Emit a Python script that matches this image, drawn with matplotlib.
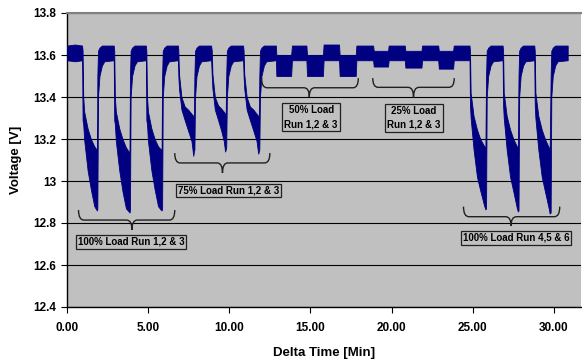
import matplotlib
matplotlib.use("Agg")
import matplotlib.pyplot as plt
from matplotlib.path import Path
from matplotlib.patches import PathPatch

plt.rcParams['font.family'] = ['Liberation Sans', 'DejaVu Sans']

# Envelope of the noisy voltage trace, segment by segment:
# time [min], lower edge [V], upper edge [V]
start_t = [0.00, 0.50, 0.93]
start_lo = [13.575, 13.570, 13.575]
start_hi = [13.645, 13.650, 13.645]

# 100 % load, runs 1-3
r1_t = [0.96, 1.00, 1.06, 1.27, 1.47, 1.68, 1.82, 1.85, 1.87, 1.91, 2.00, 2.15, 2.30, 2.88]
r1_lo = [13.29, 13.27, 13.195, 13.05, 12.96, 12.88, 12.862, 12.86, 12.87, 13.40, 13.50, 13.55, 13.57, 13.575]
r1_hi = [13.62, 13.40, 13.33, 13.25, 13.20, 13.165, 13.15, 13.15, 13.50, 13.62, 13.635, 13.645, 13.645, 13.645]
r2_t = [2.91, 2.95, 3.01, 3.22, 3.42, 3.63, 3.80, 3.85, 3.88, 3.92, 4.01, 4.16, 4.31, 4.86]
r2_lo = [13.29, 13.27, 13.19, 13.05, 12.95, 12.87, 12.855, 12.85, 12.86, 13.40, 13.50, 13.55, 13.57, 13.575]
r2_hi = [13.62, 13.40, 13.33, 13.25, 13.20, 13.16, 13.14, 13.14, 13.50, 13.62, 13.635, 13.645, 13.645, 13.645]
r3_t = [4.89, 4.93, 4.99, 5.20, 5.40, 5.61, 5.79, 5.83, 5.86, 5.90, 5.99, 6.14, 6.29, 6.84]
r3_lo = [13.29, 13.27, 13.19, 13.05, 12.96, 12.88, 12.862, 12.86, 12.87, 13.40, 13.50, 13.55, 13.57, 13.575]
r3_hi = [13.62, 13.40, 13.33, 13.25, 13.20, 13.165, 13.15, 13.15, 13.50, 13.62, 13.635, 13.645, 13.645, 13.645]

# 75 % load, runs 1-3
s1_t = [6.86, 6.90, 7.05, 7.25, 7.46, 7.67, 7.78, 7.82, 7.85, 7.89, 7.98, 8.13, 8.28, 8.88]
s1_lo = [13.50, 13.44, 13.34, 13.29, 13.24, 13.19, 13.12, 13.14, 13.15, 13.40, 13.50, 13.55, 13.57, 13.575]
s1_hi = [13.62, 13.51, 13.40, 13.355, 13.34, 13.32, 13.31, 13.31, 13.50, 13.62, 13.635, 13.645, 13.645, 13.645]
s2_t = [8.92, 8.96, 9.11, 9.31, 9.50, 9.66, 9.74, 9.78, 9.81, 9.85, 9.94, 10.09, 10.24, 10.85]
s2_lo = [13.50, 13.44, 13.34, 13.29, 13.24, 13.19, 13.14, 13.15, 13.16, 13.40, 13.50, 13.55, 13.57, 13.575]
s2_hi = [13.62, 13.51, 13.40, 13.36, 13.345, 13.33, 13.32, 13.32, 13.50, 13.62, 13.635, 13.645, 13.645, 13.645]
s3_t = [10.88, 10.92, 11.07, 11.27, 11.48, 11.68, 11.78, 11.82, 11.85, 11.89, 11.98, 12.13, 12.28, 12.87]
s3_lo = [13.50, 13.44, 13.34, 13.29, 13.24, 13.19, 13.13, 13.14, 13.15, 13.40, 13.50, 13.55, 13.57, 13.575]
s3_hi = [13.62, 13.51, 13.40, 13.355, 13.34, 13.32, 13.31, 13.31, 13.50, 13.62, 13.635, 13.645, 13.645, 13.645]

# 50 % load, runs 1-3
h_t = [12.90, 13.81, 13.86, 14.75, 14.79, 15.77, 15.81, 16.76, 16.80, 17.79, 17.83, 18.86]
h_lo = [13.50, 13.50, 13.575, 13.575, 13.50, 13.50, 13.575, 13.575, 13.50, 13.50, 13.575, 13.575]
h_hi = [13.60, 13.60, 13.645, 13.645, 13.60, 13.60, 13.65, 13.65, 13.60, 13.60, 13.645, 13.645]

# 25 % load, runs 1-3
q_t = [18.90, 19.78, 19.82, 20.81, 20.85, 21.84, 21.88, 22.87, 22.91, 23.79, 23.83, 24.80]
q_lo = [13.545, 13.545, 13.575, 13.575, 13.54, 13.54, 13.575, 13.575, 13.535, 13.535, 13.575, 13.575]
q_hi = [13.62, 13.62, 13.645, 13.645, 13.62, 13.62, 13.645, 13.645, 13.62, 13.62, 13.645, 13.645]

# 100 % load, runs 4-6
r4_t = [24.83, 24.87, 25.05, 25.26, 25.46, 25.71, 25.78, 25.82, 25.86, 25.95, 26.10, 26.25, 26.84]
r4_lo = [13.36, 13.30, 13.15, 13.02, 12.955, 12.88, 12.865, 12.87, 13.40, 13.50, 13.55, 13.57, 13.575]
r4_hi = [13.62, 13.42, 13.31, 13.245, 13.20, 13.165, 13.16, 13.50, 13.62, 13.635, 13.645, 13.645, 13.645]
r5_t = [26.87, 26.91, 27.09, 27.30, 27.50, 27.72, 27.78, 27.82, 27.86, 27.95, 28.10, 28.25, 28.79]
r5_lo = [13.36, 13.30, 13.15, 13.02, 12.95, 12.87, 12.855, 12.86, 13.40, 13.50, 13.55, 13.57, 13.575]
r5_hi = [13.62, 13.42, 13.31, 13.245, 13.20, 13.165, 13.16, 13.50, 13.62, 13.635, 13.645, 13.645, 13.645]
r6_t = [28.82, 28.86, 29.04, 29.25, 29.45, 29.68, 29.74, 29.80, 29.84, 29.93, 30.08, 30.23, 30.85]
r6_lo = [13.36, 13.30, 13.15, 13.02, 12.95, 12.87, 12.845, 12.85, 13.40, 13.50, 13.55, 13.57, 13.575]
r6_hi = [13.62, 13.42, 13.31, 13.245, 13.20, 13.16, 13.15, 13.50, 13.62, 13.635, 13.645, 13.645, 13.645]

time_min = start_t + r1_t + r2_t + r3_t + s1_t + s2_t + s3_t + h_t + q_t + r4_t + r5_t + r6_t
volt_low = start_lo + r1_lo + r2_lo + r3_lo + s1_lo + s2_lo + s3_lo + h_lo + q_lo + r4_lo + r5_lo + r6_lo
volt_high = start_hi + r1_hi + r2_hi + r3_hi + s1_hi + s2_hi + s3_hi + h_hi + q_hi + r4_hi + r5_hi + r6_hi

x_ticks = [0, 5, 10, 15, 20, 25, 30]
x_tick_labels = ["0.00", "5.00", "10.00", "15.00", "20.00", "25.00", "30.00"]
y_ticks = [12.4, 12.6, 12.8, 13.0, 13.2, 13.4, 13.6, 13.8]
y_tick_labels = ["12.4", "12.6", "12.8", "13", "13.2", "13.4", "13.6", "13.8"]

# annotation groups: label, brace left/right (min), brace top/flat/tip (V), label centre
labels = ["100% Load Run 1,2 & 3", "75% Load Run 1,2 & 3", "50% Load\nRun 1,2 & 3",
          "25% Load\nRun 1,2 & 3", "100% Load Run 4,5 & 6"]
brace_left = [0.71, 6.64, 11.99, 18.84, 24.43]
brace_right = [6.64, 12.50, 17.95, 23.86, 30.36]
brace_centre = [4.00, 9.58, 14.93, 21.35, 27.36]
brace_top = [12.862, 13.133, 13.49, 13.49, 12.878]
brace_flat = [12.814, 13.086, 13.444, 13.446, 12.830]
brace_tip = [12.767, 13.038, 13.400, 13.398, 12.786]
label_x = [3.95, 9.96, 15.04, 21.38, 27.67]
label_y = [12.710, 12.955, 13.304, 13.300, 12.730]

fig = plt.figure(figsize=(5.82, 3.6), dpi=100)
ax = fig.add_axes([67 / 582, 1 - 307 / 360, (581 - 67) / 582, (307 - 13) / 360])
ax.set_facecolor("#C0C0C0")

ax.fill_between(time_min, volt_low, volt_high, color="#000080", lw=0.6,
                edgecolor="#000080", zorder=3)

ax.set_xlim(0, 31.67)
ax.set_ylim(12.4, 13.8)
ax.set_xticks(x_ticks)
ax.set_xticklabels(x_tick_labels, fontsize=8.5, fontweight="bold")
ax.set_yticks(y_ticks)
ax.set_yticklabels(y_tick_labels, fontsize=8.5, fontweight="bold")
ax.tick_params(axis="both", direction="out", length=4, width=0.8, color="black")
ax.tick_params(axis="x", pad=7)
ax.tick_params(axis="y", pad=4)
ax.grid(axis="y", color="black", lw=0.8, zorder=1)
ax.set_axisbelow(True)

ax.spines["top"].set_color("#808080")
ax.spines["top"].set_linewidth(1.5)
ax.spines["right"].set_visible(False)
ax.spines["left"].set_color("black")
ax.spines["bottom"].set_color("black")
ax.spines["left"].set_linewidth(1.0)
ax.spines["bottom"].set_linewidth(1.0)

ax.set_xlabel("Delta Time [Min]", fontsize=9.5, fontweight="bold", labelpad=9)
ax.set_ylabel("Voltage [V]", fontsize=9.5, fontweight="bold", labelpad=8)

r = 0.33
for i in range(len(labels)):
    x0, x1, xc = brace_left[i], brace_right[i], brace_centre[i]
    yt, yf, yp = brace_top[i], brace_flat[i], brace_tip[i]
    verts = [(x0, yt), (x0, yf), (x0 + r, yf),
             (xc - r, yf), (xc, yf), (xc, yp),
             (xc, yf), (xc + r, yf),
             (x1 - r, yf), (x1, yf), (x1, yt)]
    codes = [Path.MOVETO, Path.CURVE3, Path.CURVE3,
             Path.LINETO, Path.CURVE3, Path.CURVE3,
             Path.CURVE3, Path.CURVE3,
             Path.LINETO, Path.CURVE3, Path.CURVE3]
    ax.add_patch(PathPatch(Path(verts, codes), fill=False, edgecolor="#202020",
                           lw=1.0, zorder=4))
    ax.text(label_x[i], label_y[i], labels[i], fontsize=7, fontweight="bold",
            ha="center", va="center", linespacing=1.5, zorder=5,
            bbox=dict(boxstyle="square,pad=0.2", facecolor="none",
                      edgecolor="#202020", lw=0.9))

fig.savefig("out.png", dpi=100)
